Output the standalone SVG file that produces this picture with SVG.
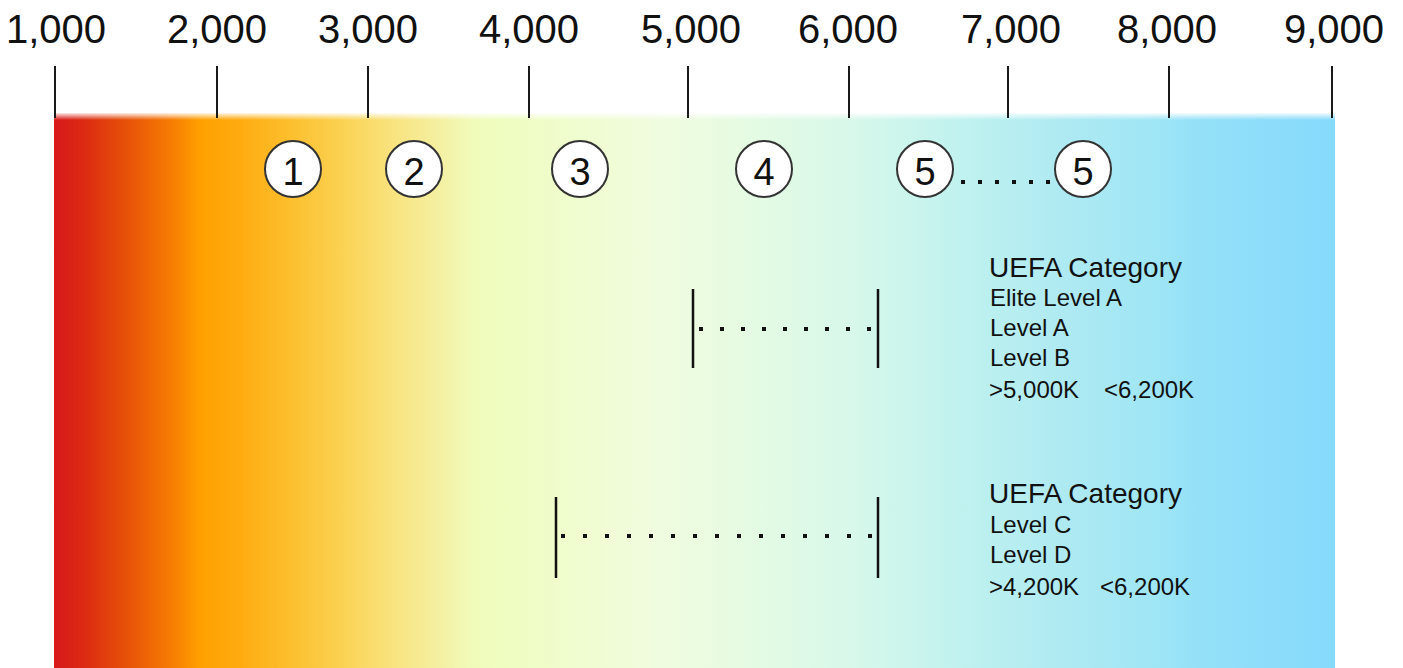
<svg xmlns="http://www.w3.org/2000/svg" width="1403" height="668" viewBox="0 0 1403 668">
<defs>
<linearGradient id="spec" gradientUnits="userSpaceOnUse" x1="54" y1="0" x2="1335" y2="0">
<stop offset="0" stop-color="#d7181a"/>
<stop offset="0.023" stop-color="#dc2a13"/>
<stop offset="0.054" stop-color="#e64e09"/>
<stop offset="0.093" stop-color="#f77e02"/>
<stop offset="0.114" stop-color="#ffa000"/>
<stop offset="0.145" stop-color="#ffab10"/>
<stop offset="0.182" stop-color="#fcbe2c"/>
<stop offset="0.223" stop-color="#fbd150"/>
<stop offset="0.262" stop-color="#f9e27c"/>
<stop offset="0.301" stop-color="#f4f0a2"/>
<stop offset="0.327" stop-color="#f0fbba"/>
<stop offset="0.348" stop-color="#effdc0"/>
<stop offset="0.473" stop-color="#f0fcdf"/>
<stop offset="0.535" stop-color="#e6fbe2"/>
<stop offset="0.621" stop-color="#d8f8ea"/>
<stop offset="0.707" stop-color="#c0f2ef"/>
<stop offset="0.785" stop-color="#afeaf2"/>
<stop offset="0.856" stop-color="#a0e6f5"/>
<stop offset="0.895" stop-color="#94e0f8"/>
<stop offset="1" stop-color="#86dafc"/>
</linearGradient>
<linearGradient id="topfade" x1="0" y1="0" x2="0" y2="1">
<stop offset="0" stop-color="#ffffff" stop-opacity="0.9"/>
<stop offset="1" stop-color="#ffffff" stop-opacity="0"/>
</linearGradient>
</defs>
<style>
.tick{stroke:#1a1a1a;stroke-width:2}
.axis{font-family:"Liberation Sans",Arial,sans-serif;font-size:40px;fill:#111;text-anchor:middle}
.circ{fill:#ffffff;stroke:#333;stroke-width:2}
.num{font-family:"Liberation Sans",Arial,sans-serif;font-size:38px;fill:#111;text-anchor:middle}
.bar{stroke:#111;stroke-width:2.5}
.dot{fill:#111}
.h{font-family:"Liberation Sans",Arial,sans-serif;font-size:28px;fill:#111}
.t{font-family:"Liberation Sans",Arial,sans-serif;font-size:24px;fill:#111}
</style>
<g id="spectrum">
<rect x="54" y="113" width="1281" height="555" fill="url(#spec)"/>
<rect x="54" y="113" width="1281" height="7" fill="url(#topfade)"/>
</g>
<g id="axis">
<line class="tick" x1="55" y1="66" x2="55" y2="118"/>
<line class="tick" x1="217" y1="66" x2="217" y2="118"/>
<line class="tick" x1="368" y1="66" x2="368" y2="118"/>
<line class="tick" x1="529" y1="66" x2="529" y2="118"/>
<line class="tick" x1="688" y1="66" x2="688" y2="118"/>
<line class="tick" x1="849" y1="66" x2="849" y2="118"/>
<line class="tick" x1="1008" y1="66" x2="1008" y2="118"/>
<line class="tick" x1="1169" y1="66" x2="1169" y2="118"/>
<line class="tick" x1="1332" y1="66" x2="1332" y2="118"/>
<text class="axis" x="56" y="43">1,000</text>
<text class="axis" x="217" y="43">2,000</text>
<text class="axis" x="368" y="43">3,000</text>
<text class="axis" x="529" y="43">4,000</text>
<text class="axis" x="691" y="43">5,000</text>
<text class="axis" x="848" y="43">6,000</text>
<text class="axis" x="1011" y="43">7,000</text>
<text class="axis" x="1167" y="43">8,000</text>
<text class="axis" x="1334" y="43">9,000</text>
</g>
<g id="n1"><circle class="circ" cx="293" cy="169" r="28"/><text class="num" x="293" y="185">1</text></g>
<g id="n2"><circle class="circ" cx="414" cy="169" r="28"/><text class="num" x="414" y="185">2</text></g>
<g id="n3"><circle class="circ" cx="580" cy="169" r="28"/><text class="num" x="580" y="185">3</text></g>
<g id="n4"><circle class="circ" cx="764" cy="169" r="28"/><text class="num" x="764" y="185">4</text></g>
<g id="n5a"><circle class="circ" cx="925" cy="169" r="28"/><text class="num" x="925" y="185">5</text></g>
<g id="n5b"><circle class="circ" cx="1083" cy="169" r="28"/><text class="num" x="1083" y="185">5</text></g>
<g id="connectors">
<g id="dots55" class="dot">
<rect x="961" y="180" width="4" height="4"/>
<rect x="978" y="180" width="4" height="4"/>
<rect x="995" y="180" width="4" height="4"/>
<rect x="1012" y="180" width="4" height="4"/>
<rect x="1029" y="180" width="4" height="4"/>
<rect x="1046" y="180" width="4" height="4"/>
</g>
<g id="range1">
<line class="bar" x1="693" y1="289" x2="693" y2="368"/>
<line class="bar" x1="878" y1="289" x2="878" y2="368"/>
<g class="dot">
<rect x="699" y="327" width="4" height="4"/>
<rect x="720" y="327" width="4" height="4"/>
<rect x="741" y="327" width="4" height="4"/>
<rect x="762" y="327" width="4" height="4"/>
<rect x="783" y="327" width="4" height="4"/>
<rect x="804" y="327" width="4" height="4"/>
<rect x="825" y="327" width="4" height="4"/>
<rect x="846" y="327" width="4" height="4"/>
<rect x="867" y="327" width="4" height="4"/>
</g>
</g>
<g id="range2">
<line class="bar" x1="556" y1="497" x2="556" y2="578"/>
<line class="bar" x1="878" y1="497" x2="878" y2="578"/>
<g class="dot">
<rect x="561" y="534" width="4" height="4"/>
<rect x="583" y="534" width="4" height="4"/>
<rect x="605" y="534" width="4" height="4"/>
<rect x="627" y="534" width="4" height="4"/>
<rect x="649" y="534" width="4" height="4"/>
<rect x="671" y="534" width="4" height="4"/>
<rect x="693" y="534" width="4" height="4"/>
<rect x="715" y="534" width="4" height="4"/>
<rect x="737" y="534" width="4" height="4"/>
<rect x="759" y="534" width="4" height="4"/>
<rect x="781" y="534" width="4" height="4"/>
<rect x="803" y="534" width="4" height="4"/>
<rect x="825" y="534" width="4" height="4"/>
<rect x="847" y="534" width="4" height="4"/>
<rect x="868" y="534" width="4" height="4"/>
</g>
</g>
</g>
<g id="label1">
<text class="h" x="989" y="277">UEFA Category</text>
<text class="t" x="990" y="306">Elite Level A</text>
<text class="t" x="990" y="336">Level A</text>
<text class="t" x="990" y="366">Level B</text>
<text class="t" x="989" y="398">&gt;5,000K</text>
<text class="t" x="1104" y="398">&lt;6,200K</text>
</g>
<g id="label2">
<text class="h" x="989" y="503">UEFA Category</text>
<text class="t" x="990" y="533">Level C</text>
<text class="t" x="990" y="563">Level D</text>
<text class="t" x="989" y="595">&gt;4,200K</text>
<text class="t" x="1100" y="595">&lt;6,200K</text>
</g>
</svg>
